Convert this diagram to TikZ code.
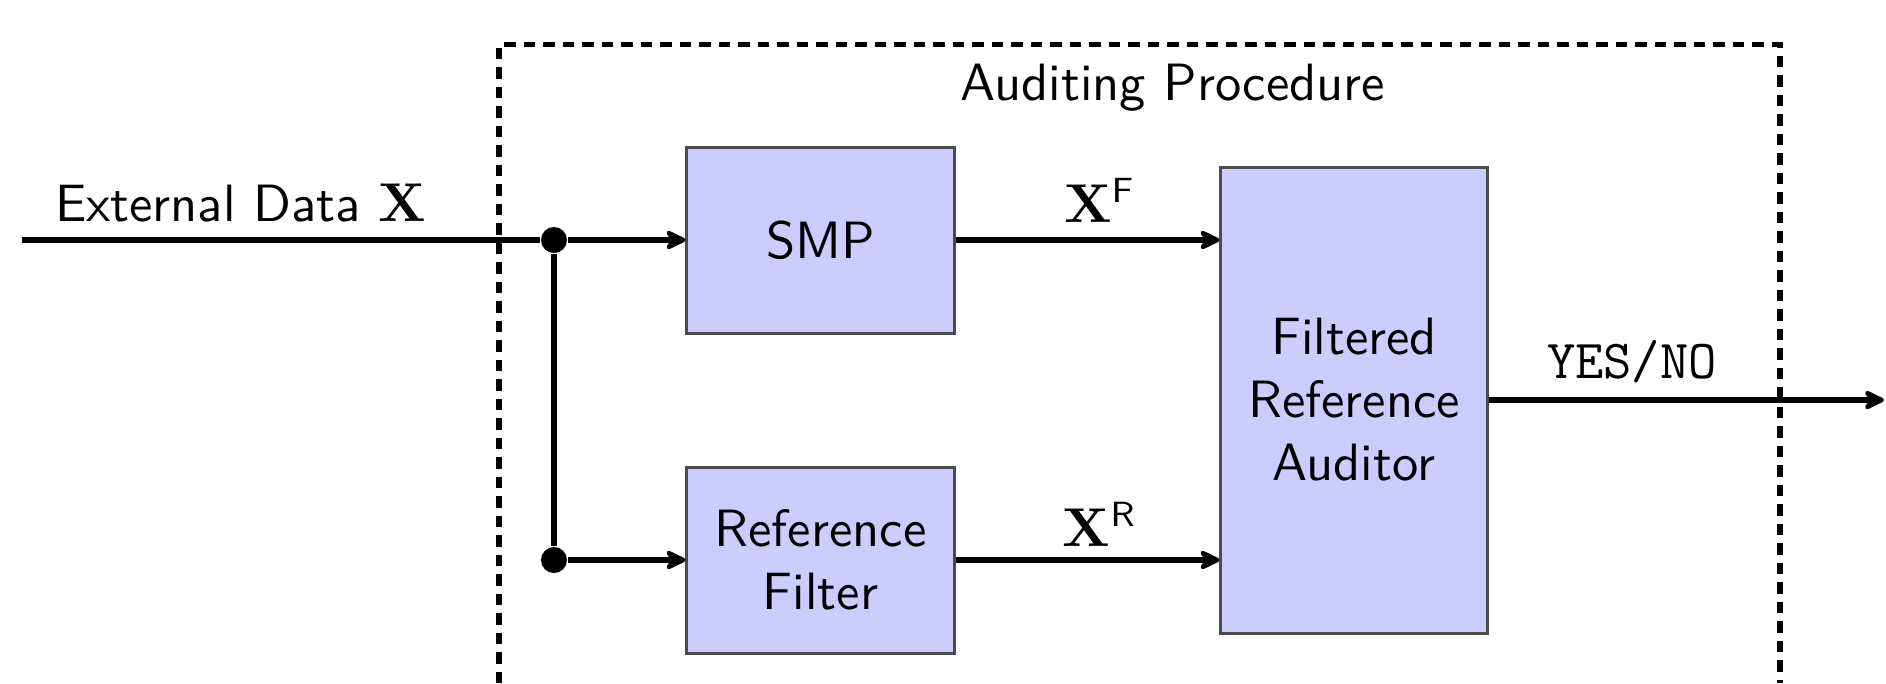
\documentclass[tikz,border=0pt]{standalone}
\usetikzlibrary{arrows.meta}
\begin{document}
\begin{tikzpicture}[x=0.2pt,y=-0.2pt,
  txt/.style={font=\fontsize{10.5}{12.6}\selectfont\sffamily},
  blk/.style={txt, draw=black!70, fill=blue!20, inner sep=0pt, align=center, line width=0.6pt},
  dot/.style={circle, fill=black, inner sep=0pt, minimum size=5.2pt},
  conn/.style={line width=1.1pt},
  arr/.style={conn, -{Stealth[length=5.2pt,width=5pt,inset=1.8pt,round]}},
  frame/.style={line width=1.1pt, dash pattern=on 2.3pt off 1.6pt},
  lbl/.style={txt}]
\useasboundingbox (0,0) rectangle (1886,683);
% frame
\coordinate (fbl) at (499,683);
\coordinate (ftl) at (499,44.5);
\coordinate (ftr) at (1780,44.5);
\coordinate (fbr) at (1780,683);
\draw[frame] (fbl) -- (ftl) -- (ftr) -- (fbr);
\node[lbl] (title) at (1173,88) {Auditing Procedure};
% blocks
\node[blk, minimum width=53.4pt, minimum height=37.2pt] (smp) at (820.5,240) {SMP};
\node[blk, minimum width=53.4pt, minimum height=37.2pt] (rf) at (820.5,560) {Reference\\Filter};
\node[blk, minimum width=53.2pt, minimum height=93.2pt] (aud) at (1354,400) {Filtered\\Reference\\Auditor};
% connectors
\coordinate (in) at (22,240);
\node[dot] (d1) at (554,240) {};
\node[dot] (d2) at (554,560) {};
\coordinate (out) at (1884,400);
\draw[conn] (in) -- (d1);
\draw[arr] (d1) -- (smp.west);
\draw[conn] (d1) -- (d2);
\draw[arr] (d2) -- (rf.west);
\draw[arr] (smp.east) -- (aud.west |- smp.east);
\draw[arr] (rf.east) -- (aud.west |- rf.east);
\draw[arr] (aud.east) -- (out);
% labels
\node[lbl, anchor=base west, inner sep=0pt] (ext) at (54,221) {External Data $\mathbf{X}$};
\node[txt] (xf) at (1100,200) {$\mathbf{X}^{\mathsf{F}}$};
\node[txt] (xr) at (1100,524) {$\mathbf{X}^{\mathsf{R}}$};
\node[font=\fontsize{11}{13}\selectfont\ttfamily] (yn) at (1632,362) {YES/NO};
\end{tikzpicture}
\end{document}
